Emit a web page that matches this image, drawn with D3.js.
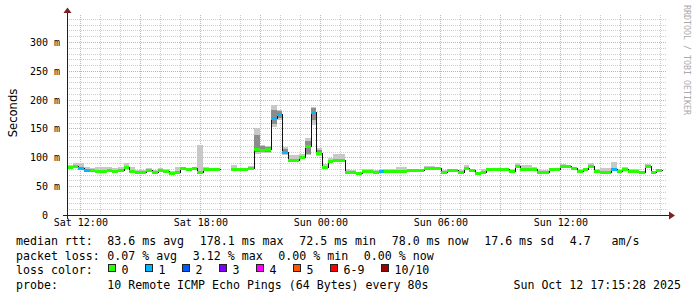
<!DOCTYPE html>
<html><head><meta charset="utf-8">
<script src="https://cdn.jsdelivr.net/npm/d3@7"></script>
<style>
body{margin:0;background:#fff}
svg{display:block}
text{font-family:"DejaVu Sans Mono",monospace;fill:#000}
</style>
</head><body>
<svg id="c" width="697" height="297"></svg>
<script>
// ---------- data ----------
const startTime = Date.UTC(2025, 9, 11, 11, 20);   // first step
const stepMinutes = 17;
const viewStart = Date.UTC(2025, 9, 11, 11, 20);
const viewEnd   = Date.UTC(2025, 9, 12, 17, 20);

const median = [83,84.5,81,78,78,77,77,78,77,78, 84,77,75,75,78,75,78,76,73,75,
  81,79,81,75,79.5,79,79,NaN,NaN,80, 79,79,81,114,113,114,169,175,110,95,
  95,101,120,179,107,84,94,95,95,75, 75,72.5,76,76,74,77,77,77,77,77,
  78,78,78,82,82,82,75,78,78,75, 82,78,73,75,80,79,79,79,77,85,
  79,79,79,75,75,79,79,85.5,85,82, 77,79,85,77,75,75,79,77,80,77,
  77,74,85,75,78];
const smokeHi = [87,91,90,84,81,83,83,83,81,84, 89.5,83,78,78,81,78,82,79,76,83,
  84,82,84,121,84,81,81,NaN,NaN,87, 81,81,85,150,122,120,191,182,118,104,
  104,105,134,188,116,88,98,105,105,79, 78,74,79,79,78,79,80,80,84,84,
  80,80,80,85,85,84,78,80,80,78, 87,80,75,80,82,81,81,81,79,91,
  86,86,83,78,78,82,82,88,87,84, 79,82,91,79,81,81,92.5,79,83,79,
  79,76,88,77,80];
const smokeLo = [80,82,78,76,76,75,75,76,75,76, 81,75,73,73,76,73,76,74,71,73,
  79,77,79,73,77,77,77,NaN,NaN,78, 77,77,79,106,107,108,153,165,104,92,
  92,98,104,156,103,82,91,92,92,73, 73,71,74,74,72,75,75,75,75,75,
  76,76,76,80,80,80,73,76,76,73, 80,76,71,73,78,77,77,77,75,83,
  77,77,77,73,73,77,77,83,83,80, 75,77,83,75,73,73,77,75,78,75,
  75,72,83,73,76];
const loss = [0,0,1,1,0,0,0,0,0,0, 0,0,0,0,0,0,0,0,0,0,
  0,0,0,0,0,0,0,0,0,0, 0,0,0,0,0,0,1,1,1,0,
  0,0,0,1,0,0,0,0,0,0, 0,0,0,0,0,1,0,0,0,0,
  0,0,0,0,0,0,0,0,0,0, 0,0,0,0,0,0,0,0,0,0,
  0,0,0,0,0,0,0,0,0,0, 0,0,0,0,0,0,1,0,0,0,
  0,0,0,0,0];
// darker smoke core for the spike steps
const innerSteps = [33,34,35,36,37,38,42,43,44];
const innerLo    = [110,109,110,158,168,106,106,165,104];
const innerHi    = [139,120,118,182,180,114,128,185,112];

const yTicks = [0,50,100,150,200,250,300];
const lossLabels = ["0","1","2","3","4","5","6-9","10/10"];
const lossColors = ["#26ff00","#00b8ff","#0059ff","#7e00ff","#ff00ff","#ff5500","#ff0000","#a10000"];
const statsRtt  = ["83.6 ms avg","178.1 ms max","72.5 ms min","78.0 ms now","17.6 ms sd","4.7   am/s"];
const statsLoss = ["0.07 % avg","3.12 % max","0.00 % min","0.00 % now"];
const probeText = "10 Remote ICMP Echo Pings (64 Bytes) every 80s";
const stampText = "Sun Oct 12 17:15:28 2025";

// ---------- layout ----------
const L = 67, R = 667, T = 15, B = 215;
const svg = d3.select("#c");
const x = d3.scaleUtc().domain([new Date(viewStart), new Date(viewEnd)]).range([L, R]);
const y = d3.scaleLinear().domain([0, 346.8]).range([B, T]);
const px = v => Math.round(v) + 0.5;

// grid
const g = svg.append("g").attr("shape-rendering","crispEdges");
const minorY = d3.range(10, 347, 10).filter(v => v % 50 !== 0);
const majorY = yTicks.filter(v => v > 0);
const hours = d3.utcHour.range(new Date(viewStart), new Date(viewEnd));
const minorX = hours.filter(h => h.getUTCHours() % 3 !== 0);
const majorX = hours.filter(h => h.getUTCHours() % 3 === 0);
g.selectAll(".mny").data(minorY).enter().append("line")
  .attr("x1", L).attr("x2", R).attr("y1", d => px(y(d))).attr("y2", d => px(y(d)))
  .attr("stroke","#cdcdcd").attr("stroke-dasharray","1,1");
g.selectAll(".mnx").data(minorX).enter().append("line")
  .attr("y1", T).attr("y2", B).attr("x1", d => px(x(d))).attr("x2", d => px(x(d)))
  .attr("stroke","#cdcdcd").attr("stroke-dasharray","1,1");
g.selectAll(".mjy").data(majorY).enter().append("line")
  .attr("x1", L).attr("x2", R).attr("y1", d => px(y(d))).attr("y2", d => px(y(d)))
  .attr("stroke","#efa0a0").attr("stroke-dasharray","1,1");
g.selectAll(".mjx").data(majorX).enter().append("line")
  .attr("y1", T).attr("y2", B).attr("x1", d => px(x(d))).attr("x2", d => px(x(d)))
  .attr("stroke","#efa0a0").attr("stroke-dasharray","1,1");

// steps
const steps = median.map((m, i) => ({
  i, m, hi: smokeHi[i], lo: smokeLo[i], loss: loss[i],
  t0: new Date(startTime + i * stepMinutes * 60000),
  t1: new Date(startTime + (i + 1) * stepMinutes * 60000)
})).filter(d => !isNaN(d.m));

const data = svg.append("g").attr("shape-rendering","crispEdges");
data.selectAll(".smoke").data(steps).enter().append("rect")
  .attr("x", d => Math.round(x(d.t0))).attr("width", d => Math.round(x(d.t1)) - Math.round(x(d.t0)))
  .attr("y", d => Math.round(y(d.hi))).attr("height", d => Math.round(y(d.lo)) - Math.round(y(d.hi)))
  .attr("fill","#c8c8c8");
const inner = innerSteps.map((s, k) => ({
  t0: new Date(startTime + s * stepMinutes * 60000),
  t1: new Date(startTime + (s + 1) * stepMinutes * 60000),
  lo: innerLo[k], hi: innerHi[k]
}));
data.selectAll(".inner").data(inner).enter().append("rect")
  .attr("x", d => Math.round(x(d.t0))).attr("width", d => Math.round(x(d.t1)) - Math.round(x(d.t0)))
  .attr("y", d => Math.round(y(d.hi))).attr("height", d => Math.round(y(d.lo)) - Math.round(y(d.hi)))
  .attr("fill","#8c8c8c");

// black median step line (with gap)
const pts = [];
median.forEach((m, i) => {
  const t0 = new Date(startTime + i * stepMinutes * 60000);
  const t1 = new Date(startTime + (i + 1) * stepMinutes * 60000);
  if (isNaN(m)) { pts.push(null); return; }
  pts.push({t: t0, v: m}); pts.push({t: t1, v: m});
});
const line = d3.line().defined(d => d !== null)
  .x(d => Math.round(x(d.t)) + 0.5).y(d => Math.round(y(d.v)) + 0.5);
data.append("path").attr("d", line(pts)).attr("fill","none").attr("stroke","#111").attr("stroke-width",1);

// coloured median bars by loss
const lossIdx = n => n <= 5 ? n : (n < 10 ? 6 : 7);
data.selectAll(".med").data(steps).enter().append("rect")
  .attr("x", d => Math.round(x(d.t0))).attr("width", d => Math.round(x(d.t1)) - Math.round(x(d.t0)))
  .attr("y", d => Math.round(y(d.m)) - 1).attr("height", 3)
  .attr("fill", d => lossColors[lossIdx(d.loss)]);

// axes
const ax = svg.append("g").attr("shape-rendering","crispEdges");
ax.append("line").attr("x1", 63).attr("x2", 670).attr("y1", B + 0.5).attr("y2", B + 0.5).attr("stroke","#202020");
ax.append("line").attr("x1", L + 0.5).attr("x2", L + 0.5).attr("y1", 219).attr("y2", 11).attr("stroke","#202020");
svg.append("path").attr("d", `M669,211.5L675,215.5L669,219.5Z`).attr("fill","#7f1f1f");
svg.append("path").attr("d", `M63.5,13L67.5,7.5L71.5,13Z`).attr("fill","#7f1f1f");

const yAxis = d3.axisLeft(y).tickValues(yTicks).tickSize(0).tickPadding(0)
  .tickFormat(v => v === 0 ? "0" : v + " m");
const ya = svg.append("g").attr("transform", "translate(60,0)").call(yAxis);
ya.select(".domain").remove();
ya.selectAll("text").attr("font-family","DejaVu Sans Mono").attr("font-size","10px").attr("fill","#000")
  .attr("dy","0.35em").attr("x", v => v === 0 ? -12 : 0);

const xTicks = d3.utcHour.every(6).range(new Date(viewStart), new Date(viewEnd));
const xAxis = d3.axisBottom(x).tickValues(xTicks).tickSize(0).tickPadding(0)
  .tickFormat(d3.utcFormat("%a %H:%M"));
const xa = svg.append("g").attr("transform", "translate(0,219)").call(xAxis);
xa.select(".domain").remove();
xa.selectAll("text").attr("font-family","DejaVu Sans Mono").attr("font-size","10px").attr("fill","#000").attr("dy","0.7em");

// y label
svg.append("text").attr("transform","translate(17,113) rotate(-90)").attr("text-anchor","middle")
  .style("font-family","'DejaVu Sans'").style("font-size","11.6px").text("Seconds");

// watermark
svg.append("text").attr("transform","translate(684,5) rotate(90)").attr("text-anchor","start")
  .style("font-size","8.3px").style("fill","#aaaaaa").text("RRDTOOL / TOBI OETIKER");

// legend
const FS = "11.6px", col0 = 16, col1 = 107.3, gap = 15.7;
const lg = svg.append("g").style("font-size", FS);
function row(label, items, by) {
  lg.append("text").attr("x", col0).attr("y", by).text(label);
  let xx = col1;
  items.forEach(s => {
    const t = lg.append("text").attr("x", xx).attr("y", by).style("white-space","pre").text(s);
    xx += t.node().getComputedTextLength() + gap;
  });
}
row("median rtt:", statsRtt, 245);
row("packet loss:", statsLoss, 259.5);
lg.append("text").attr("x", col0).attr("y", 274).text("loss color:");
let lx = col1;
lossLabels.forEach((s, k) => {
  lg.append("rect").attr("x", Math.round(lx + 1) + 0.5).attr("y", 264.5).attr("width", 7).attr("height", 7)
    .attr("fill", lossColors[k]).attr("stroke","#222").attr("stroke-width",1);
  const t = lg.append("text").attr("x", lx + 14.3).attr("y", 274).text(s);
  lx += 14.3 + t.node().getComputedTextLength() + gap;
});
lg.append("text").attr("x", col0).attr("y", 288.5).text("probe:");
lg.append("text").attr("x", col1).attr("y", 288.5).text(probeText);
lg.append("text").attr("x", 681).attr("y", 288.5).attr("text-anchor","end").text(stampText);
</script>
</body></html>
